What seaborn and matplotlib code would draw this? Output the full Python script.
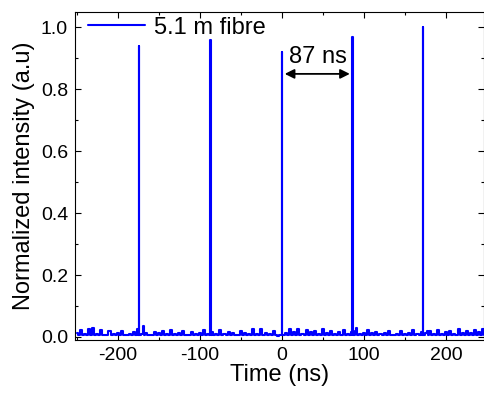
import matplotlib
matplotlib.use("Agg")

import numpy as np
import pandas as pd
import seaborn as sns
import matplotlib.pyplot as plt
from matplotlib.ticker import MultipleLocator, FormatStrFormatter

# Pulse train: peak positions (ns) and normalized heights
peak_times = [-174, -87, 0, 86, 172]
peak_heights = [0.94, 0.96, 0.92, 0.97, 1.0]

# Small after-pulse bumps seen just after some peaks
bump_times = [-169, 91, 177]
bump_heights = [0.035, 0.03, 0.02]

# Baseline noise, one sample every 5 ns from -250 ns
noise_start = -250
noise_step = 5
noise = [
    0.012, 0.022, 0.008, 0.025, 0.028, 0.010, 0.021, 0.006, 0.018, 0.009,
    0.014, 0.020, 0.007, 0.011, 0.016, 0.024, 0.009, 0.013, 0.006, 0.015,
    0.012, 0.018, 0.010, 0.022, 0.008, 0.014, 0.019, 0.007, 0.016, 0.010,
    0.013, 0.021, 0.009, 0.017, 0.011, 0.023, 0.008, 0.015, 0.012, 0.006,
    0.020, 0.014, 0.009, 0.024, 0.011, 0.027, 0.013, 0.008, 0.019, 0.004,
    0.006, 0.012, 0.024, 0.016, 0.027, 0.010, 0.022, 0.015, 0.018, 0.011,
    0.024, 0.012, 0.020, 0.009, 0.017, 0.023, 0.010, 0.015, 0.019, 0.008,
    0.013, 0.021, 0.012, 0.016, 0.009, 0.014, 0.020, 0.006, 0.011, 0.018,
    0.010, 0.013, 0.022, 0.008, 0.015, 0.012, 0.019, 0.009, 0.023, 0.011,
    0.016, 0.020, 0.010, 0.025, 0.014, 0.018, 0.012, 0.022, 0.016, 0.024,
]
baseline = 0.005

# each noise sample is a short blip above the baseline
noise_t = [noise_start + i * noise_step for i in range(len(noise))]
gap_t = [nt + noise_step / 2 for nt in noise_t]
t = (noise_t + gap_t + [p - 0.6 for p in peak_times] + list(peak_times)
     + [p + 0.6 for p in peak_times] + bump_times)
y = (noise + [baseline] * len(gap_t) + [baseline] * len(peak_times) + peak_heights
     + [baseline] * len(peak_times) + bump_heights)
df = pd.DataFrame({"time": t, "intensity": y}).sort_values("time")

sns.set_theme(style="ticks")
plt.rcParams["font.family"] = ["Liberation Sans", "DejaVu Sans"]
plt.rcParams["axes.unicode_minus"] = False
plt.rcParams["xtick.direction"] = "in"
plt.rcParams["ytick.direction"] = "in"
plt.rcParams["text.color"] = "black"
plt.rcParams["axes.labelcolor"] = "black"
plt.rcParams["xtick.labelcolor"] = "black"
plt.rcParams["ytick.labelcolor"] = "black"

fig = plt.figure(figsize=(4.84, 3.96), dpi=100)
ax = fig.add_axes([75 / 484, 1 - 340 / 396, 409 / 484, 328 / 396])

sns.lineplot(data=df, x="time", y="intensity", ax=ax, color="#0000ff",
             linewidth=1.5, label="5.1 m fibre", estimator=None, sort=False,
             drawstyle="steps-mid")

ax.set_xlim(-252, 246)
ax.set_ylim(-0.01, 1.05)
ax.xaxis.set_major_locator(MultipleLocator(100))
ax.xaxis.set_minor_locator(MultipleLocator(50))
ax.yaxis.set_major_locator(MultipleLocator(0.2))
ax.yaxis.set_minor_locator(MultipleLocator(0.1))
ax.yaxis.set_major_formatter(FormatStrFormatter("%.1f"))
ax.tick_params(which="both", top=True, right=True, labelsize=14, color="black", width=0.8)
ax.tick_params(which="major", length=4, pad=5)
ax.tick_params(which="minor", length=2.5)
for s in ax.spines.values():
    s.set_color("black")
    s.set_linewidth(0.8)

ax.set_xlabel("Time (ns)", fontsize=17, labelpad=0)
ax.set_ylabel("Normalized intensity (a.u)", fontsize=17, labelpad=4)

# 87 ns period marker
ax.annotate("", xy=(0, 0.85), xytext=(86, 0.85),
            arrowprops=dict(arrowstyle="<|-|>", color="black", lw=1.3, mutation_scale=14))
ax.text(44, 0.905, "87 ns", ha="center", va="center", fontsize=17)

leg = ax.legend(loc="upper left", bbox_to_anchor=(0.02, 1.0), frameon=False,
                fontsize=17, handlelength=2.4, borderaxespad=0.0,
                handletextpad=0.4, borderpad=0.2)

fig.savefig("out.png", dpi=100)
